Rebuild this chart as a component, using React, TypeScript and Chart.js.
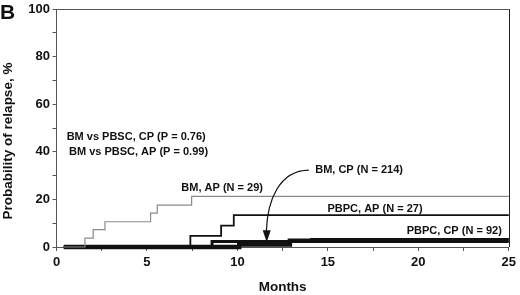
import { useEffect, useRef } from 'react';
import { Chart, registerables } from 'chart.js';

Chart.register(...registerables);

// ---- data ----
const bmApMonths = [0.4, 1.57, 2.03, 2.68, 5.2, 5.57, 7.47, 25];
const bmApRelapse = [0, 3.7, 7.3, 10.6, 14.2, 17.6, 21.3, 21.3];

const pbpcApMonths = [0.4, 7.4, 9.1, 9.8, 25];
const pbpcApRelapse = [0, 4.7, 9.0, 13.4, 13.4];

const pbpcCpMonths = [0.4, 8.6, 14.1, 25];
const pbpcCpRelapse = [0, 2.3, 3.1, 3.1];

const bmCpMonths = [0.4, 10.1, 12.9, 25];
const bmCpRelapse = [0, 1.0, 2.6, 2.6];

const xTickLabels = [0, 5, 10, 15, 20, 25];
const yTickLabels = [0, 20, 40, 60, 80, 100];

const seriesNames = ['BM, AP (N = 29)', 'PBPC, AP (N = 27)', 'PBPC, CP (N = 92)', 'BM, CP (N = 214)'];
const pValueTexts = ['BM vs PBSC, CP (P = 0.76)', 'BM vs PBSC, AP (P = 0.99)'];

// annotation placement (data units)
const textPlacement = [
  { text: pValueTexts[0], x: 0.56, y: 46.1 },
  { text: pValueTexts[1], x: 0.69, y: 39.8 },
  { text: seriesNames[0], x: 6.9, y: 24.8 },
  { text: seriesNames[3], x: 14.3, y: 32.5 },
  { text: seriesNames[1], x: 14.98, y: 16.0 },
  { text: seriesNames[2], x: 19.36, y: 6.9 },
];
const arrowPath = { start: [13.95, 32.3], c1: [12.3, 32.1], c2: [11.66, 19.6], end: [11.6, 6.6], tip: [11.62, 2.0] };

const FONT = '"Liberation Sans", Arial, Helvetica, sans-serif';

function pts(xs: number[], ys: number[]) {
  return xs.map((x, i) => ({ x, y: ys[i] }));
}

const decorPlugin = {
  id: 'decor',
  afterDatasetsDraw(chart: any) {
    const { ctx, chartArea } = chart;
    const xs = chart.scales.x;
    const ys = chart.scales.y;
    const px = (v: number) => xs.getPixelForValue(v);
    const py = (v: number) => ys.getPixelForValue(v);
    ctx.save();
    // frame top + right
    ctx.strokeStyle = '#555';
    ctx.lineWidth = 1;
    ctx.beginPath();
    ctx.moveTo(chartArea.left, Math.round(chartArea.top) + 0.5);
    ctx.lineTo(chartArea.right, Math.round(chartArea.top) + 0.5);
    ctx.stroke();
    ctx.strokeStyle = '#222';
    ctx.beginPath();
    ctx.moveTo(Math.round(chartArea.right) + 0.5, chartArea.top);
    ctx.lineTo(Math.round(chartArea.right) + 0.5, chartArea.bottom);
    ctx.stroke();

    // annotations
    ctx.fillStyle = '#111';
    ctx.font = `bold 11px ${FONT}`;
    ctx.textBaseline = 'middle';
    ctx.textAlign = 'left';
    textPlacement.forEach((t) => ctx.fillText(t.text, px(t.x), py(t.y)));

    // arrow
    ctx.strokeStyle = '#111';
    ctx.lineWidth = 1.2;
    ctx.beginPath();
    ctx.moveTo(px(arrowPath.start[0]), py(arrowPath.start[1]));
    ctx.bezierCurveTo(
      px(arrowPath.c1[0]), py(arrowPath.c1[1]),
      px(arrowPath.c2[0]), py(arrowPath.c2[1]),
      px(arrowPath.end[0]), py(arrowPath.end[1])
    );
    ctx.stroke();
    const tx = px(arrowPath.tip[0]);
    const ty = py(arrowPath.tip[1]);
    const ey = py(arrowPath.end[1]);
    ctx.fillStyle = '#111';
    ctx.beginPath();
    ctx.moveTo(tx, ty);
    ctx.lineTo(tx - 4, ey - 1);
    ctx.lineTo(tx + 4, ey - 1);
    ctx.closePath();
    ctx.fill();

    // y title
    ctx.save();
    ctx.translate(8, chartArea.top + 132);
    ctx.rotate(-Math.PI / 2);
    ctx.font = `bold 13.5px ${FONT}`;
    ctx.textAlign = 'center';
    ctx.textBaseline = 'middle';
    ctx.fillText('Probability of relapse, %', 0, 0);
    ctx.restore();

    // panel letter
    ctx.font = `bold 21px ${FONT}`;
    ctx.textAlign = 'left';
    ctx.textBaseline = 'alphabetic';
    ctx.fillText('B', 0, 18.5);
    ctx.restore();
  },
};

export default function App() {
  const ref = useRef<HTMLCanvasElement | null>(null);
  useEffect(() => {
    document.body.style.margin = '0';
    const canvas = ref.current;
    if (!canvas) return;
    Chart.defaults.font.family = FONT;
    const chart = new Chart(canvas, {
      type: 'line',
      data: {
        datasets: [
          { label: seriesNames[0], data: pts(bmApMonths, bmApRelapse), borderColor: '#8a8a8a', borderWidth: 1.2 },
          { label: seriesNames[1], data: pts(pbpcApMonths, pbpcApRelapse), borderColor: '#111', borderWidth: 1.8 },
          { label: seriesNames[3] + ' outline', data: pts(bmCpMonths, bmCpRelapse), borderColor: '#111', borderWidth: 4.5 },
          { label: seriesNames[3], data: pts(bmCpMonths, bmCpRelapse), borderColor: '#aaa', borderWidth: 2.5 },
          { label: seriesNames[2], data: pts(pbpcCpMonths, pbpcCpRelapse), borderColor: '#111', borderWidth: 3 },
        ].map((d) => ({ ...d, stepped: 'before', pointRadius: 0, fill: false, clip: false, tension: 0 })) as any,
      },
      options: {
        animation: false,
        responsive: false,
        devicePixelRatio: 1,
        layout: { padding: { top: 7, right: 10, left: 0, bottom: 0 } },
        plugins: { legend: { display: false }, tooltip: { enabled: false } },
        scales: {
          x: {
            type: 'linear',
            min: 0,
            max: 25,
            ticks: {
              stepSize: 2.5,
              autoSkip: false,
              maxRotation: 0,
              padding: 4,
              color: '#111',
              font: { size: 13, weight: 'bold' },
              callback: (v: any) => (xTickLabels.includes(Number(v)) ? String(v) : ''),
            },
            grid: { drawOnChartArea: false, drawTicks: true, tickLength: 4, color: '#555' },
            border: { color: '#555', width: 1 },
            title: { display: true, text: 'Months', color: '#111', font: { size: 13.5, weight: 'bold' }, padding: { top: 0, bottom: 0 } },
            afterFit: (s: any) => { s.height = 48; },
          },
          y: {
            type: 'linear',
            min: 0,
            max: 100,
            ticks: {
              stepSize: 10,
              autoSkip: false,
              padding: 2.5,
              color: '#111',
              font: { size: 13, weight: 'bold', lineHeight: 1 },
              callback: (v: any) => (yTickLabels.includes(Number(v)) ? String(v) : ''),
            },
            grid: { drawOnChartArea: false, drawTicks: true, tickLength: 4, color: '#555' },
            border: { color: '#555', width: 1 },
            afterFit: (s: any) => { s.width = 56.5; },
          },
        },
      },
      plugins: [decorPlugin],
    });
    return () => chart.destroy();
  }, []);
  return (
    <div style={{ width: 520, height: 295, position: 'relative', background: '#fff' }}>
      <canvas ref={ref} width={520} height={295} style={{ display: 'block' }} />
    </div>
  );
}
